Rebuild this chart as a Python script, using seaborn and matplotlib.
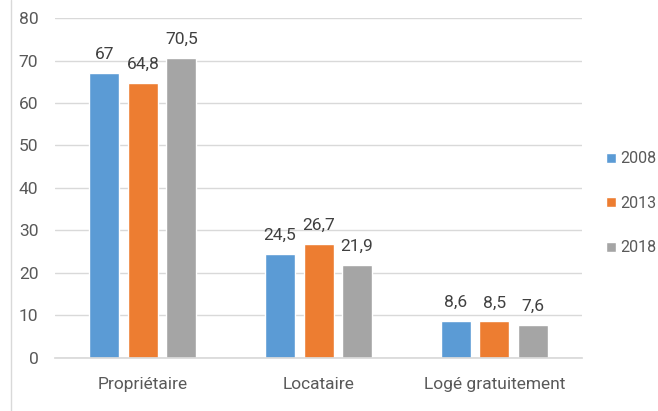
import matplotlib
matplotlib.use("Agg")
import matplotlib.pyplot as plt
from matplotlib.lines import Line2D
import seaborn as sns
import pandas as pd

categories = ["Propriétaire", "Locataire", "Logé gratuitement"]
years = ["2008", "2013", "2018"]
values_2008 = [67, 24.5, 8.6]
values_2013 = [64.8, 26.7, 8.5]
values_2018 = [70.5, 21.9, 7.6]
colors = ["#5B9BD5", "#ED7D31", "#A5A5A5"]
yticks = [0, 10, 20, 30, 40, 50, 60, 70, 80]

sns.set_theme(style="white")
plt.rcParams["font.family"] = ["Roboto", "DejaVu Sans"]

rows = []
for year, vals in zip(years, [values_2008, values_2013, values_2018]):
    for cat, v in zip(categories, vals):
        rows.append({"cat": cat, "year": year, "val": v})
df = pd.DataFrame(rows)

fig = plt.figure(figsize=(6.58, 4.11), dpi=100)
ax = fig.add_axes([0.0836, 0.130, 0.801, 0.826])

sns.barplot(data=df, x="cat", y="val", hue="year", order=categories,
            hue_order=years, palette=colors, width=0.656, gap=0.22,
            saturation=1, ax=ax, legend=True)

text_color = "#595959"
fs = 12.5
for container in ax.containers:
    labels = [f"{v:g}".replace(".", ",") for v in container.datavalues]
    ax.bar_label(container, labels=labels, padding=8, fontsize=fs,
                 color="#404040")

ax.set_ylim(0, 80)
ax.set_xlim(-0.5, 2.5)
ax.set_yticks(yticks)
ax.set_yticklabels([str(t) for t in yticks])
ax.yaxis.grid(True, color="#D9D9D9", linewidth=1)
ax.set_axisbelow(True)
for s in ["top", "right", "left"]:
    ax.spines[s].set_visible(False)
ax.spines["bottom"].set_color("#D9D9D9")
ax.tick_params(axis="both", colors=text_color, labelsize=fs, length=0)
ax.tick_params(axis="x", pad=14)
ax.tick_params(axis="y", pad=12)
ax.set_xlabel("")
ax.set_ylabel("")

leg = ax.legend(loc="center left", bbox_to_anchor=(1.045, 0.454),
                frameon=False, fontsize=11.5, handlelength=0.62,
                handleheight=0.62, handletextpad=0.3, labelspacing=1.85,
                borderaxespad=0, borderpad=0)
for t in leg.get_texts():
    t.set_color(text_color)

fig.add_artist(Line2D([0.016, 0.016], [0, 1], transform=fig.transFigure,
                      color="#D9D9D9", linewidth=1))

fig.savefig("out.png", dpi=100)
